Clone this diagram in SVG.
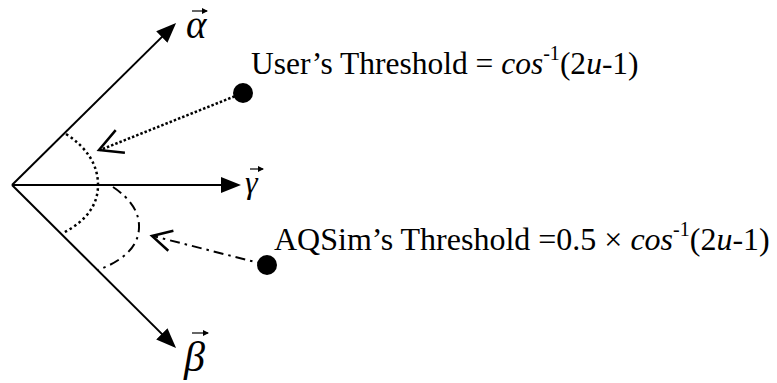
<svg xmlns="http://www.w3.org/2000/svg" width="777" height="383" viewBox="0 0 777 383">
<defs>
<marker id="tri" markerUnits="userSpaceOnUse" markerWidth="22" markerHeight="18" refX="17" refY="8" orient="auto">
<path d="M0,0 L20,8 L0,16 Z" fill="#000"/>
</marker>
<marker id="vec" markerUnits="userSpaceOnUse" markerWidth="8" markerHeight="6" refX="5" refY="3" orient="auto">
<path d="M0,0 L6,3 L0,6 Z" fill="#000"/>
</marker>
</defs>
<style>
.axis{stroke:#000;stroke-width:2;fill:none;marker-end:url(#tri)}
.dot{stroke:#000;stroke-width:2.5;fill:none;stroke-dasharray:2.5 2}
.arcdot{stroke:#000;stroke-width:2.5;fill:none;stroke-dasharray:2.5 3}
.dashdot{stroke:#000;stroke-width:2;fill:none;stroke-dasharray:10 5 2.5 5}
.head{stroke:#000;stroke-width:2.5;fill:none}
.vecbar{stroke:#000;stroke-width:1.2;marker-end:url(#vec)}
.it{font-style:italic}
.greek{font-style:italic}
</style>
<g id="connectors">
<line class="axis" x1="12" y1="185" x2="173.9" y2="25.1"/>
<line class="axis" x1="12" y1="185" x2="238" y2="185"/>
<line class="axis" x1="12" y1="185" x2="173.9" y2="345.9"/>
<path class="arcdot" d="M66,134 Q98,155 98,185 Q98,215 63,233"/>
<path class="dashdot" d="M113,187 Q140,205 139,228 Q138,255 98,270"/>
<line class="dot" x1="243" y1="93" x2="100" y2="150"/>
<polyline class="head" points="115.7,130.1 99,150 124.9,152.8"/>
<line class="dashdot" x1="267" y1="265" x2="153" y2="236"/>
<polyline class="head" points="173.4,230.7 152,236 168.3,250.8"/>
</g>
<g id="alpha">
<line class="vecbar" x1="192" y1="11" x2="207" y2="11"/>
<text class="greek" x="186" y="38" font-size="39" font-family="'Liberation Serif', 'DejaVu Serif', serif">α</text>
</g>
<g id="gamma">
<line class="vecbar" x1="250" y1="169" x2="263" y2="169"/>
<text class="greek" x="245" y="193" font-size="32" font-family="'Liberation Serif', 'DejaVu Serif', serif">γ</text>
</g>
<g id="beta">
<line class="vecbar" x1="192" y1="333" x2="208" y2="333"/>
<text class="greek" x="184" y="371" font-size="42" font-family="'Liberation Serif', 'DejaVu Serif', serif">β</text>
</g>
<g id="user-threshold">
<circle cx="243" cy="93" r="10" fill="#000"/>
<text x="251" y="74" font-size="31.5" font-family="'Liberation Serif', 'DejaVu Serif', serif">User’s Threshold = <tspan class="it">cos</tspan><tspan font-size="20" dy="-14">-1</tspan><tspan dy="14">(2</tspan><tspan class="it">u</tspan>-1)</text>
</g>
<g id="aqsim-threshold">
<circle cx="267" cy="265" r="10" fill="#000"/>
<text x="274" y="250" font-size="32" font-family="'Liberation Serif', 'DejaVu Serif', serif">AQSim’s Threshold =0.5 × <tspan class="it">cos</tspan><tspan font-size="20" dy="-14">-1</tspan><tspan dy="14">(2</tspan><tspan class="it">u</tspan>-1)</text>
</g>
</svg>
